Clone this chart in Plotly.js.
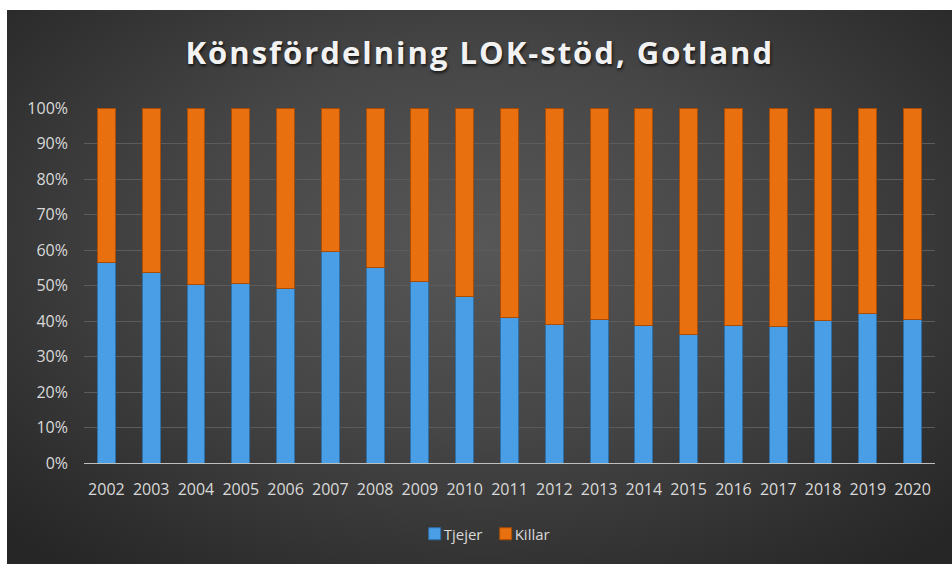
<!DOCTYPE html>
<html>
<head>
<meta charset="utf-8">
<script src="https://cdn.plot.ly/plotly-3.0.1.min.js"></script>
<style>
html,body{margin:0;padding:0;background:#ffffff;width:952px;height:564px;overflow:hidden;}
#bg{position:absolute;left:7px;top:10px;width:945px;height:554px;
background:radial-gradient(ellipse 70% 75% at 50% 42%, #575757 0%, #464646 45%, #2e2e2e 85%, #262626 100%);}
#chart{position:absolute;left:0;top:0;width:952px;height:564px;}
.gtitle{letter-spacing:2px;}
.legend .legendtext{transform:translateX(-11px);}
</style>
</head>
<body>
<div id="bg"></div>
<div id="chart"></div>
<script>
const years = ['2002','2003','2004','2005','2006','2007','2008','2009','2010','2011','2012','2013','2014','2015','2016','2017','2018','2019','2020'];
const tjejer = [56.4,53.6,50.2,50.5,49.1,59.5,55.2,51.2,46.9,40.9,39.0,40.5,38.8,36.2,38.8,38.5,40.2,42.2,40.4];
const killar = tjejer.map(v => +(100 - v).toFixed(1));
const yTicks = [0,10,20,30,40,50,60,70,80,90,100];

const traces = [
  {type:'bar', name:'Tjejer', x:years, y:tjejer,
   marker:{color:'#4a9ee6', line:{color:'#2f6fa8', width:1}}, hoverinfo:'x+y'},
  {type:'bar', name:'Killar', x:years, y:killar,
   marker:{color:'#e8700f', line:{color:'#a84c06', width:1}}, hoverinfo:'x+y'}
];

const layout = {
  width:952, height:564,
  barmode:'stack', bargap:0.6,
  paper_bgcolor:'rgba(0,0,0,0)', plot_bgcolor:'rgba(0,0,0,0)',
  margin:{l:84, r:17, t:108, b:101},
  title:{text:'Könsfördelning LOK-stöd, Gotland', x:0.504, xanchor:'center', y:0.905, yanchor:'middle',
    font:{family:'Open Sans, sans-serif', size:31, color:'#f2f2f2', weight:700, shadow:'1px 2px 3px rgba(0,0,0,0.7)'}},
  xaxis:{type:'category', tickfont:{family:'Open Sans, sans-serif', size:16, color:'#d9d9d9'},
    showgrid:false, showline:true, linecolor:'#bfbfbf', linewidth:1, ticks:'', ticklen:0,
    ticklabelstandoff:12, fixedrange:true},
  yaxis:{range:[0,100], tickvals:yTicks, ticktext:yTicks.map(v=>v+'%'),
    tickfont:{family:'Open Sans, sans-serif', size:16, color:'#d9d9d9'},
    showgrid:true, gridcolor:'#5c5c5c', gridwidth:1, zeroline:false, ticks:'', ticklabelstandoff:15, fixedrange:true},
  showlegend:true,
  legend:{orientation:'h', x:0.472, xanchor:'center', y:-0.2, yanchor:'middle', entrywidth:26,
    font:{family:'Open Sans, sans-serif', size:15, color:'#d9d9d9'}, itemwidth:30, traceorder:'normal'}
};

Plotly.newPlot('chart', traces, layout, {displayModeBar:false, staticPlot:true});
</script>
</body>
</html>
